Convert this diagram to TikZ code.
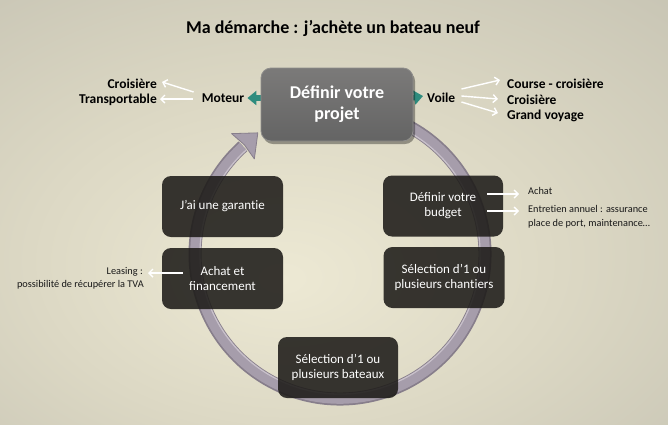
\documentclass[tikz,border=0pt]{standalone}
\usepackage{fontspec}
\setmainfont{Carlito}
\usetikzlibrary{arrows.meta,shadows,calc}
\newcommand\nolig{\kern0pt }
\definecolor{bgA}{HTML}{EDE9D4}
\definecolor{bgB}{HTML}{DCD8C4}
\definecolor{bgC}{HTML}{C6C3B3}
\definecolor{bgD}{HTML}{ADAA9C}
\definecolor{boxc}{HTML}{1E1C19}
\definecolor{ringdark}{HTML}{877E8B}
\definecolor{ringmain}{HTML}{A69DAB}
\definecolor{ringlight}{HTML}{D6CFD8}
\definecolor{tealc}{HTML}{2E8C7E}
\definecolor{projtop}{HTML}{7B7A79}
\definecolor{projbot}{HTML}{646464}
\definecolor{projedge}{HTML}{8E8D8B}
\pgfdeclareradialshading{bgshade}{\pgfpoint{-4bp}{-8bp}}{color(0bp)=(bgA); color(20bp)=(bgB); color(42bp)=(bgC); color(72bp)=(bgD)}
\begin{document}
\begin{tikzpicture}[x=1pt,y=-1pt,
  darkbox/.style={fill=boxc, fill opacity=0.88, text opacity=1, rounded corners=9pt,
    minimum width=121pt, minimum height=61pt, text=white, align=center,
    font=\fontsize{13}{15}\selectfont, inner sep=2pt},
  projbox/.style={draw=projedge, line width=0.8pt, top color=projtop, bottom color=projbot,
    rounded corners=10pt, minimum width=152pt, minimum height=73pt, text=white, align=center,
    font=\bfseries\fontsize{18}{21}\selectfont,
    drop shadow={shadow xshift=2pt, shadow yshift=-3pt, opacity=0.35, fill=black}},
  biglbl/.style={font=\bfseries\fontsize{13.5}{15}\selectfont, text=black, inner sep=1pt},
  smalllbl/.style={font=\fontsize{10.3}{12}\selectfont, text=black!90, inner sep=1pt},
  warrow/.style={draw=white, line width=1.4pt, -{Straight Barb[length=4pt,width=8pt]}},
  tarrow/.style={draw=tealc, line width=5.5pt, -{Triangle[length=9pt,width=14pt]}}
]
\useasboundingbox (0,0) rectangle (668,424);
\shade[shading=bgshade] (0,0) rectangle (668,424);

% title
\node[font=\bfseries\fontsize{18}{21}\selectfont, text=black] (title) at (333,28) {Ma démarche : j’achète un bateau neuf};

% ring
\coordinate (c) at (340,254);
\draw[ringdark, line width=13pt] ($(c)+(-64:145)$) arc[start angle=-64, end angle=228, radius=145];
\draw[ringmain, line width=9.5pt] ($(c)+(-64:145)$) arc[start angle=-64, end angle=228, radius=145];
\draw[ringlight, line width=1.3pt, opacity=0.8] ($(c)+(-64:140)$) arc[start angle=-64, end angle=228, radius=140];
\fill[ringmain, draw=ringdark, line width=0.8pt, line join=round]
  ($(c)+(228:162)$) -- ($(c)+(228:145)+(318:20)$) -- ($(c)+(228:128)$) -- ($(c)+(228:145)+(318:2)$) -- cycle;

% labels around the top box
\node[biglbl] (moteur) at (223,98) {Moteur};
\node[biglbl, anchor=east] (crois) at (158,84) {Croisière};
\node[biglbl, anchor=east] (transp) at (158,100) {Transportable};
\node[biglbl, anchor=west] (voile) at (426,98) {Voile};
\node[biglbl, anchor=west] (course) at (506,84) {Course - croisière};
\node[biglbl, anchor=west] (crois2) at (506,100) {Croisière};
\node[biglbl, anchor=west] (grand) at (506,116) {Grand voyage};

% teal arrows (drawn before the box)
\coordinate (tl) at (276,98);
\coordinate (tr) at (400,100);
\draw[tarrow] (tl) -- ([xshift=2pt]moteur.east);
\draw[tarrow] (tr) -- ([shift={(-3pt,2pt)}]voile.west);

% top box
\node[projbox] (projet) at (337,104.5) {Définir votre\\projet};

% white arrows
\draw[warrow] ([shift={(-7,-6)}]moteur.west) -- ([shift={(4,-2)}]crois.east);
\draw[warrow] ([shift={(-8,1)}]moteur.west) -- ([shift={(2,-1)}]transp.east);
\draw[warrow] ([shift={(5,-9)}]voile.east) -- ([shift={(-6,-4)}]course.west);
\draw[warrow] ([shift={(5,-2)}]voile.east) -- ([shift={(-8,-1)}]crois2.west);
\draw[warrow] ([shift={(5,4)}]voile.east) -- ([shift={(-8,-3)}]grand.west);

% dark boxes
\node[darkbox] (garantie) at (222.5,206.5) {J’ai une garant\nolig ie};
\node[darkbox] (achat) at (222.5,278.5) {Achat et\\financement};
\node[darkbox, minimum width=120pt] (budget) at (443,206) {Définir votre\\budget};
\node[darkbox] (chantiers) at (444,277.5) {Sélection d’1 ou\\plusieurs chant\nolig iers};
\node[darkbox, minimum width=120pt] (bateaux) at (338,367.5) {Sélection d’1 ou\\plusieurs bateaux};

% budget side
\node[smalllbl, anchor=west] (achatlbl) at (527,191) {Achat};
\node[smalllbl, anchor=west] (entr1) at (527,209) {Entret\nolig ien annuel : assurance};
\node[smalllbl, anchor=west] (entr2) at (527,224) {place de port, maintenance…};
\draw[warrow] ([shift={(44,-12)}]budget.center) -- ([shift={(-8,3)}]achatlbl.west);
\draw[warrow] ([shift={(44,5)}]budget.center) -- ([shift={(-8,2)}]entr1.west);

% leasing side
\node[smalllbl, anchor=east] (leas1) at (144,272) {Leasing :};
\node[smalllbl, anchor=east] (leas2) at (145,285) {possibilité de récupérer la TVA};
\draw[warrow] ([shift={(-40,-5.5)}]achat.center) -- ([shift={(4,1)}]leas1.east);
\end{tikzpicture}
\end{document}
